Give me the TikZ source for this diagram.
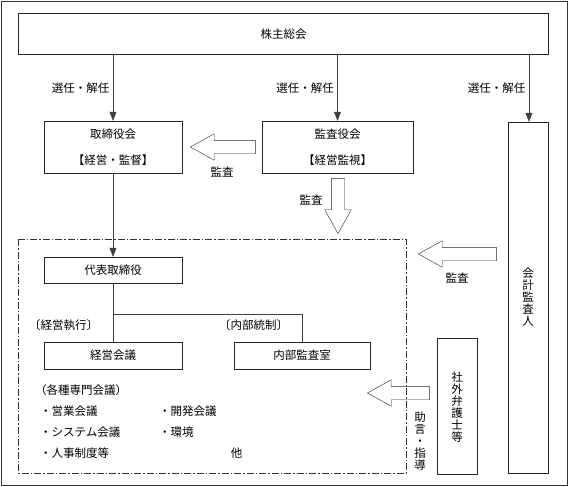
\documentclass[tikz,border=0pt]{standalone}
\usepackage{fontspec}
\setmainfont{Noto Sans CJK JP}
\usetikzlibrary{arrows.meta,positioning,calc,shapes.arrows}

\begin{document}
\begin{tikzpicture}[x=1pt,y=-1pt,font=\fontsize{11.5}{12}\selectfont,
  box/.style={draw=black!85,inner sep=0pt,align=center},
  hollow/.style={single arrow,draw=black!85,inner sep=6.5pt,minimum width=26pt,
    single arrow head extend=6.5pt,single arrow tip angle=58},
  vtext/.style={align=center,inner sep=0pt,font=\fontsize{11.5}{12}\selectfont},
  conn/.style={draw=black!75,-{Triangle[length=9pt,width=7pt]}}]
\useasboundingbox (0,0) rectangle (570,487);
\draw[black!80,line width=0.8pt] (1,1) rectangle (567,485);

% boxes
\node[box,minimum width=530pt,minimum height=41pt] (soukai) at (283.5,34) {株主総会};
\node[box,minimum width=138pt,minimum height=52pt] (torishimari) at (113,147) {取締役会\\[14pt]【経営・監督】};
\node[box,minimum width=151pt,minimum height=52pt] (kansayaku) at (337.5,147) {監査役会\\[14pt]【経営監視】};
\node[box,minimum width=40pt,minimum height=351pt] (kaikei) at (528,297.5) {};
\node[vtext] at (kaikei) {会\\計\\監\\査\\人};

\draw[black!80,dash pattern=on 7pt off 2pt on 1.5pt off 2pt] (18,239) rectangle (406,473);
\node[box,minimum width=138pt,minimum height=26pt] (daihyo) at (113,270) {代表取締役};
\node[box,minimum width=138pt,minimum height=27pt] (keiei) at (113,355.5) {経営会議};
\node[box,minimum width=136pt,minimum height=27pt] (naibu) at (302,355.5) {内部監査室};
\node[box,minimum width=40pt,minimum height=136pt] (shagai) at (457,406) {};
\node[vtext] at (457,407) {社\\外\\弁\\護\\士\\等};

% election arrows
\draw[conn] (soukai.south -| torishimari.north) -- node[left,pos=0.5] {選任・解任} (torishimari.north);
\draw[conn] (soukai.south -| kansayaku.north) -- node[left,pos=0.5] {選任・解任} (kansayaku.north);
\draw[conn] (soukai.south -| 529,0) -- node[left,pos=0.5] {選任・解任} (529,0 |- kaikei.north);

% line of command
\draw[conn] (torishimari.south) -- (daihyo.north);
\draw[black!75] (daihyo.south) -- (keiei.north);
\coordinate (branch) at (daihyo.south |- 0,314);
\draw[black!75] (branch) -| (naibu.north);
\node (shikko) at (63.5,325) {〔経営執行〕};
\node (tousei) at (253.5,325) {〔内部統制〕};

% audit arrows
\node[hollow,shape border rotate=180,minimum height=65pt,anchor=tip] (kansa1) at (190,147) {};
\node (kansa1lbl) at (222,172) {監査};
\node[hollow,shape border rotate=270,minimum height=55pt,anchor=tip] (kansa2) at (338,234) {};
\node (kansa2lbl) at (311,200) {監査};
\node[hollow,shape border rotate=180,minimum height=78pt,anchor=tip] (kansa3) at (418,254) {};
\node (kansa3lbl) at (457,278) {監査};
\node[hollow,shape border rotate=180,minimum height=62pt,anchor=tip] (jogen) at (367,393) {};
\node[vtext] (jogenlbl) at (420,441) {助\\言\\・\\指\\導};

% committees
\node[anchor=west,inner sep=0pt] (senmon) at (35,390) {（各種専門会議）};
\node[anchor=west,inner sep=0pt] (eigyo) at (40,411) {・営業会議};
\node[anchor=west,inner sep=0pt] (kaihatsu) at (159,411) {・開発会議};
\node[anchor=west,inner sep=0pt] (system) at (40,432) {・システム会議};
\node[anchor=west,inner sep=0pt] (kankyo) at (159,432) {・環境};
\node[anchor=west,inner sep=0pt] (jinji) at (40,453) {・人事制度等};
\node (hoka) at (236.5,453) {他};
\end{tikzpicture}
\end{document}
